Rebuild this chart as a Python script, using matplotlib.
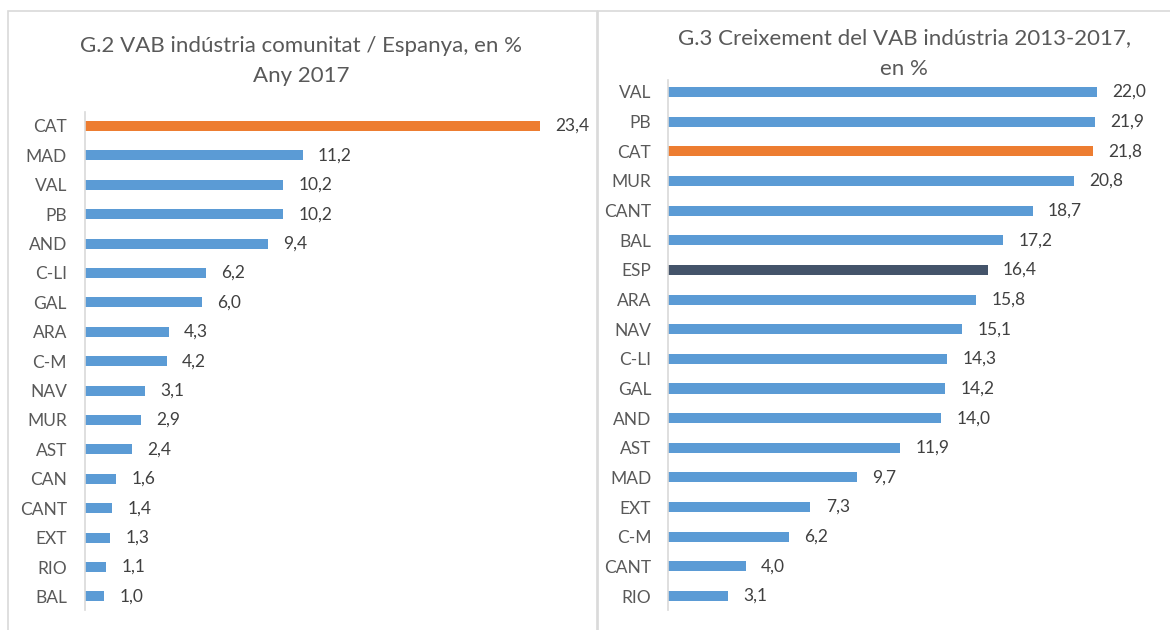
import matplotlib.pyplot as plt
from matplotlib.patches import Rectangle

plt.rcParams['font.family'] = ['Lato', 'DejaVu Sans']

# G.2 data
cat_left = ['CAT', 'MAD', 'VAL', 'PB', 'AND', 'C-LI', 'GAL', 'ARA', 'C-M',
            'NAV', 'MUR', 'AST', 'CAN', 'CANT', 'EXT', 'RIO', 'BAL']
val_left = [23.4, 11.2, 10.2, 10.2, 9.4, 6.2, 6.0, 4.3, 4.2,
            3.1, 2.9, 2.4, 1.6, 1.4, 1.3, 1.1, 1.0]

# G.3 data
cat_right = ['VAL', 'PB', 'CAT', 'MUR', 'CANT', 'BAL', 'ESP', 'ARA', 'NAV',
             'C-LI', 'GAL', 'AND', 'AST', 'MAD', 'EXT', 'C-M', 'CANT', 'RIO']
val_right = [22.0, 21.9, 21.8, 20.8, 18.7, 17.2, 16.4, 15.8, 15.1,
             14.3, 14.2, 14.0, 11.9, 9.7, 7.3, 6.2, 4.0, 3.1]

BLUE = '#5B9BD5'
ORANGE = '#ED7D31'
DARK = '#44546A'
GREY = '#595959'

W, H = 1170, 630
fig = plt.figure(figsize=(W / 100, H / 100), dpi=100)

def fx(px):
    return px / W

def fy(py):
    return 1 - py / H

# panel borders
fig.patches.append(Rectangle((fx(8), fy(640)), fx(589), (640 - 11) / H,
                             transform=fig.transFigure, fill=False,
                             edgecolor='#D9D9D9', lw=1.2))
fig.patches.append(Rectangle((fx(598), fy(640)), fx(590), (640 - 11) / H,
                             transform=fig.transFigure, fill=False,
                             edgecolor='#D9D9D9', lw=1.2))


def bar_panel(left_px, xmax, scale, top_px, bot_px, y0, step, cats, vals,
              colors, pad):
    n = len(cats)
    width_px = xmax * scale
    ax = fig.add_axes([fx(left_px), fy(bot_px), fx(width_px), (bot_px - top_px) / H])
    pos = list(range(n))
    ax.barh(pos, vals, height=0.34, color=colors)
    ax.set_xlim(0, xmax)
    ytop = -(y0 - top_px) / step
    ybot = (bot_px - y0) / step
    ax.set_ylim(ybot, ytop)
    ax.set_yticks(pos)
    ax.set_yticklabels(cats, fontsize=12.5, color=GREY)
    ax.tick_params(axis='y', length=0, pad=pad)
    ax.set_xticks([])
    for s in ['top', 'right', 'bottom']:
        ax.spines[s].set_visible(False)
    ax.spines['left'].set_color('#D9D9D9')
    ax.spines['left'].set_linewidth(1.2)
    for p, v in zip(pos, vals):
        ax.annotate(f'{v:.1f}'.replace('.', ','), (v, p), xytext=(11, 0),
                    textcoords='offset points', va='center', ha='left',
                    fontsize=12.5, color='#404040')
    return ax


col_left = [ORANGE if c == 'CAT' else BLUE for c in cat_left]
bar_panel(85, 26, 19.44, 112, 610, 126, 29.4, cat_left, val_left, col_left, 13)

col_right = []
for c in cat_right:
    if c == 'CAT':
        col_right.append(ORANGE)
    elif c == 'ESP':
        col_right.append(DARK)
    else:
        col_right.append(BLUE)
bar_panel(668, 25, 19.5, 80, 610, 92, 29.65, cat_right, val_right, col_right, 12)

fig.text(fx(301), fy(46), 'G.2 VAB indústria comunitat / Espanya, en %',
         ha='center', va='center', fontsize=16, color=GREY)
fig.text(fx(301), fy(76), 'Any 2017', ha='center', va='center',
         fontsize=16, color=GREY)
fig.text(fx(904), fy(38), 'G.3 Creixement del VAB indústria 2013-2017,',
         ha='center', va='center', fontsize=16, color=GREY)
fig.text(fx(904), fy(69), 'en %', ha='center', va='center',
         fontsize=16, color=GREY)

fig.savefig('out.png', dpi=100, facecolor='white')
